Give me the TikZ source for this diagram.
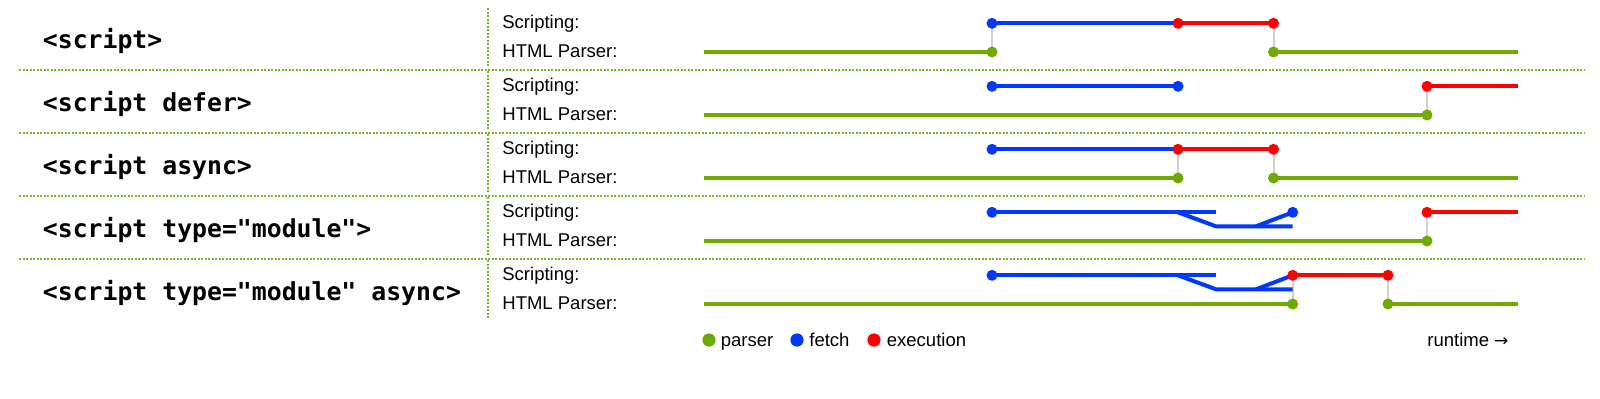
\documentclass[tikz,border=0pt]{standalone}
\usepackage{fontspec}
\setmainfont{Liberation Sans}
\newfontfamily\codefont{DejaVu Sans Mono}
\newfontfamily\arrowfont{DejaVu Sans}
\definecolor{pgreen}{RGB}{110,170,0}
\definecolor{sepgreen}{RGB}{125,175,40}
\definecolor{fblue}{RGB}{0,56,255}
\definecolor{ered}{RGB}{255,0,0}
\definecolor{linkgray}{RGB}{208,208,208}
\begin{document}
\begin{tikzpicture}[x=0.5pt,y=-0.5pt,
  track/.style={line width=2pt},
  parse/.style={track,draw=pgreen},
  fetch/.style={track,draw=fblue},
  exec/.style={track,draw=ered},
  link/.style={draw=linkgray,line width=1pt},
  sep/.style={draw=sepgreen,line width=1pt,dash pattern=on 1pt off 0.75pt},
  dotbase/.style={circle,inner sep=0pt,minimum size=5.5pt},
  gdot/.style={dotbase,fill=pgreen},
  bdot/.style={dotbase,fill=fblue},
  rdot/.style={dotbase,fill=ered},
  legdot/.style={circle,inner sep=0pt,minimum size=6.6pt},
  lab/.style={font=\fontsize{9.25}{11}\selectfont,anchor=base west,inner sep=0pt},
  code/.style={font=\codefont\bfseries\fontsize{12.4}{14}\selectfont,anchor=base west,inner sep=0pt}]
\useasboundingbox (0,0) rectangle (1600,398);

% row separators
\foreach \i in {0,1,2,3}{
  \pgfmathsetmacro\yy{69.6+63*\i}
  \coordinate (sl\i) at (19,\yy);
  \coordinate (sr\i) at (1585,\yy);
  \draw[sep] (sl\i) -- (sr\i);
}
% per-row labels and vertical separators
\foreach \i/\t in {0/{<script>},1/{<script defer>},2/{<script async>},3/{<script type="module">},4/{<script type="module" async>}}{
  \pgfmathsetmacro\ss{23.3+63*\i}
  \pgfmathsetmacro\vt{\ss-15}
  \pgfmathsetmacro\vb{\ss+43.4}
  \pgfmathsetmacro\bs{\ss+5}
  \pgfmathsetmacro\bp{\ss+33.7}
  \pgfmathsetmacro\bc{48+63*\i}
  \node[code] (code\i) at (42.5,\bc) {\t};
  \coordinate (vt\i) at (488,\vt);
  \coordinate (vb\i) at (488,\vb);
  \draw[sep] (vt\i) -- (vb\i);
  \node[lab] (scr\i) at (502,\bs) {Scripting:};
  \node[lab] (par\i) at (502,\bp) {HTML Parser:};
}

% row 1: <script>
\begin{scope}
  \coordinate (a-p0) at (704,52); \coordinate (a-p1) at (992,52);
  \coordinate (a-s1) at (992,23.3); \coordinate (a-s2) at (1178,23.3);
  \coordinate (a-s3) at (1273.5,23.3); \coordinate (a-p3) at (1273.5,52);
  \coordinate (a-p4) at (1518,52);
  \draw[link] (a-s1) -- (a-p1); \draw[link] (a-s3) -- (a-p3);
  \draw[parse] (a-p0) -- (a-p1); \draw[parse] (a-p3) -- (a-p4);
  \draw[fetch] (a-s1) -- (a-s2); \draw[exec] (a-s2) -- (a-s3);
  \node[gdot] (a-d1) at (a-p1) {}; \node[gdot] (a-d2) at (a-p3) {};
  \node[bdot] (a-d3) at (a-s1) {}; \node[rdot] (a-d4) at (a-s2) {};
  \node[rdot] (a-d5) at (a-s3) {};
\end{scope}

% row 2: defer
\begin{scope}[shift={(0,63)}]
  \coordinate (b-p0) at (704,52); \coordinate (b-p1) at (1427,52);
  \coordinate (b-s1) at (992,23.3); \coordinate (b-s2) at (1178,23.3);
  \coordinate (b-s3) at (1427,23.3); \coordinate (b-s4) at (1518,23.3);
  \draw[link] (b-s3) -- (b-p1);
  \draw[parse] (b-p0) -- (b-p1);
  \draw[fetch] (b-s1) -- (b-s2); \draw[exec] (b-s3) -- (b-s4);
  \node[gdot] (b-d1) at (b-p1) {};
  \node[bdot] (b-d2) at (b-s1) {}; \node[bdot] (b-d3) at (b-s2) {};
  \node[rdot] (b-d4) at (b-s3) {};
\end{scope}

% row 3: async
\begin{scope}[shift={(0,126)}]
  \coordinate (c-p0) at (704,52); \coordinate (c-p1) at (1178,52);
  \coordinate (c-p2) at (1273.5,52); \coordinate (c-p3) at (1518,52);
  \coordinate (c-s1) at (992,23.3); \coordinate (c-s2) at (1178,23.3);
  \coordinate (c-s3) at (1273.5,23.3);
  \draw[link] (c-s2) -- (c-p1); \draw[link] (c-s3) -- (c-p2);
  \draw[parse] (c-p0) -- (c-p1); \draw[parse] (c-p2) -- (c-p3);
  \draw[fetch] (c-s1) -- (c-s2); \draw[exec] (c-s2) -- (c-s3);
  \node[gdot] (c-d1) at (c-p1) {}; \node[gdot] (c-d2) at (c-p2) {};
  \node[bdot] (c-d3) at (c-s1) {};
  \node[rdot] (c-d4) at (c-s2) {}; \node[rdot] (c-d5) at (c-s3) {};
\end{scope}

% row 4: module
\begin{scope}[shift={(0,189)}]
  \coordinate (d-p0) at (704,52); \coordinate (d-p1) at (1427,52);
  \coordinate (d-s1) at (992,23.3); \coordinate (d-s2) at (1216,23.3);
  \coordinate (d-k1) at (1178,23.3); \coordinate (d-m1) at (1216,37.3);
  \coordinate (d-m2) at (1292.7,37.3); \coordinate (d-m3) at (1256,37.3);
  \coordinate (d-s3) at (1292.7,23.3);
  \coordinate (d-s4) at (1427,23.3); \coordinate (d-s5) at (1518,23.3);
  \draw[link] (d-s4) -- (d-p1);
  \draw[parse] (d-p0) -- (d-p1);
  \draw[fetch] (d-s1) -- (d-s2);
  \draw[fetch] (d-k1) -- (d-m1) -- (d-m2);
  \draw[fetch] (d-m3) -- (d-s3);
  \draw[exec] (d-s4) -- (d-s5);
  \node[gdot] (d-d1) at (d-p1) {};
  \node[bdot] (d-d2) at (d-s1) {}; \node[bdot] (d-d3) at (d-s3) {};
  \node[rdot] (d-d4) at (d-s4) {};
\end{scope}

% row 5: module async
\begin{scope}[shift={(0,252)}]
  \coordinate (e-p0) at (704,52); \coordinate (e-p1) at (1292.7,52);
  \coordinate (e-p2) at (1388,52); \coordinate (e-p3) at (1518,52);
  \coordinate (e-s1) at (992,23.3); \coordinate (e-s2) at (1216,23.3);
  \coordinate (e-k1) at (1178,23.3); \coordinate (e-m1) at (1216,37.3);
  \coordinate (e-m2) at (1292.7,37.3); \coordinate (e-m3) at (1256,37.3);
  \coordinate (e-s3) at (1292.7,23.3); \coordinate (e-s4) at (1388,23.3);
  \draw[link] (e-s3) -- (e-p1); \draw[link] (e-s4) -- (e-p2);
  \draw[parse] (e-p0) -- (e-p1); \draw[parse] (e-p2) -- (e-p3);
  \draw[fetch] (e-s1) -- (e-s2);
  \draw[fetch] (e-k1) -- (e-m1) -- (e-m2);
  \draw[fetch] (e-m3) -- (e-s3);
  \draw[exec] (e-s3) -- (e-s4);
  \node[gdot] (e-d1) at (e-p1) {}; \node[gdot] (e-d2) at (e-p2) {};
  \node[bdot] (e-d3) at (e-s1) {};
  \node[rdot] (e-d4) at (e-s3) {}; \node[rdot] (e-d5) at (e-s4) {};
\end{scope}

% legend
\node[legdot,fill=pgreen] (lg1) at (709,340) {};
\node[lab] (lt1) at (720.5,346) {parser};
\node[legdot,fill=fblue] (lg2) at (797,340) {};
\node[lab] (lt2) at (809,346) {fetch};
\node[legdot,fill=ered] (lg3) at (874,340) {};
\node[lab] (lt3) at (886.5,346) {execution};
\node[lab] (rt) at (1427,346) {runtime {\arrowfont\fontsize{8.5}{10}\selectfont →}};
\end{tikzpicture}
\end{document}
